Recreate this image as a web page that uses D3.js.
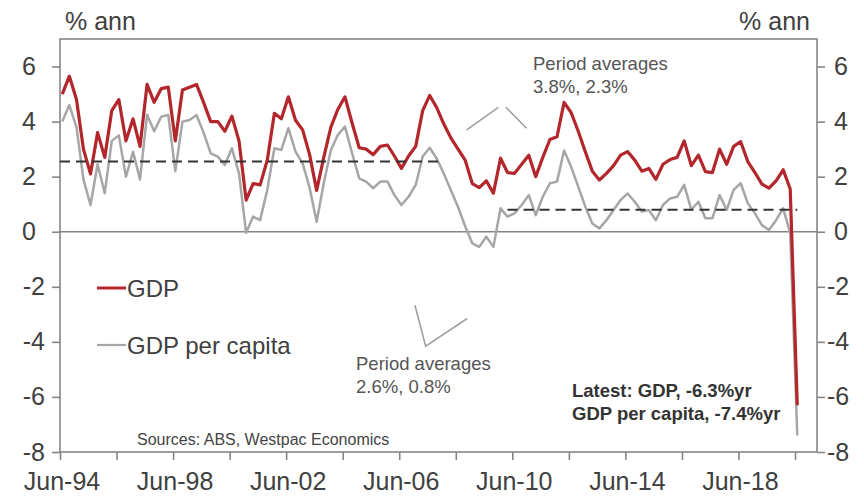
<!DOCTYPE html>
<html>
<head>
<meta charset="utf-8">
<script src="https://cdn.jsdelivr.net/npm/d3@7"></script>
<style>
  body { margin: 0; background: #fff; }
  svg text { font-family: "Liberation Sans", Arial, sans-serif; }
</style>
</head>
<body>
<div id="chart"></div>
<script>
// quarterly, year-ended % change, Jun-94 .. Jun-20
var gdp = [
  5.0, 5.65, 4.8, 3.0, 2.1, 3.6, 2.7, 4.4, 4.8, 3.3,
  4.1, 3.1, 5.35, 4.7, 5.2, 5.25, 3.3, 5.15, 5.25, 5.35,
  4.7, 4.0, 4.0, 3.65, 4.2, 3.3, 1.15, 1.75, 1.7, 2.6,
  4.3, 4.1, 4.9, 4.05, 3.7, 2.8, 1.5, 2.7, 3.8, 4.45,
  4.9, 3.95, 3.05, 3.0, 2.8, 3.1, 3.15, 2.75, 2.3, 2.75,
  3.1, 4.4, 4.95, 4.5, 3.9, 3.4, 3.0, 2.6, 1.75, 1.6,
  1.85, 1.4, 2.67, 2.15, 2.12, 2.45, 2.78, 2.0, 2.7, 3.35,
  3.45, 4.7, 4.33, 3.65, 2.9, 2.2, 1.88, 2.12, 2.4, 2.78,
  2.91, 2.6, 2.2, 2.3, 1.9, 2.45, 2.62, 2.7, 3.3, 2.4,
  2.78, 2.18, 2.15, 3.0, 2.45, 3.1, 3.27, 2.55, 2.15, 1.73,
  1.58, 1.85, 2.25, 1.55, -6.3
];
var gdpPerCapita = [
  4.0, 4.6, 3.8, 1.9, 0.97, 2.45, 1.4, 3.3, 3.5, 2.0,
  2.9, 1.9, 4.25, 3.65, 4.18, 4.24, 2.2, 4.0, 4.06, 4.24,
  3.6, 2.85, 2.73, 2.43, 3.03, 2.12, -0.04, 0.55, 0.42, 1.52,
  3.03, 2.97, 3.76, 2.91, 2.48, 1.6, 0.36, 1.76, 2.97, 3.52,
  3.82, 2.85, 1.94, 1.82, 1.58, 1.82, 1.82, 1.33, 0.97, 1.27,
  1.7, 2.73, 3.05, 2.65, 2.1, 1.5, 0.9, 0.2, -0.42, -0.55,
  -0.18, -0.55, 0.85, 0.55, 0.67, 0.97, 1.33, 0.6, 1.27, 1.76,
  1.82, 2.95, 2.36, 1.64, 0.91, 0.3, 0.12, 0.42, 0.79, 1.15,
  1.39, 1.09, 0.73, 0.79, 0.42, 0.97, 1.21, 1.27, 1.7, 0.8,
  1.09, 0.49, 0.49, 1.33, 0.79, 1.52, 1.76, 1.03, 0.67, 0.24,
  0.06, 0.42, 0.85, -0.05, -7.4
];
// period averages shown as dashed lines
var avgFrom = ["1994-06-01", "2010-03-31"];
var avgTo = ["2007-11-10", "2020-06-30"];
var avgValue = [2.55, 0.8];
var yTicks = [-8, -6, -4, -2, 0, 2, 4, 6];
var xTickYears = [1994, 1996, 1998, 2000, 2002, 2004, 2006, 2008, 2010, 2012, 2014, 2016, 2018, 2020];
var xLabelYears = [1994, 1998, 2002, 2006, 2010, 2014, 2018];
// little pointer marks next to the "Period averages" notes (decimal year, value)
var upperMarks = [[[2008.80, 3.70], [2009.92, 4.52]], [[2010.19, 4.52], [2010.92, 3.76]]];
var lowerMarks = [[[2006.97, -2.67], [2007.35, -4.16], [2008.82, -3.15]]];

(function() {
  var W = 864, H = 498;
  var pl = 60, pr = 817, pt = 39, pb = 452;
  var red = "#b3262b", grey = "#a6a6a6", axisCol = "#858585", textCol = "#404040";
  var fmt = function(d) { return String(d); };

  var svg = d3.select("#chart").append("svg").attr("width", W).attr("height", H);

  var x = d3.scaleTime().domain([new Date(1994, 5, 1), new Date(2021, 2, 12)]).range([pl, pr]);
  var y = d3.scaleLinear().domain([-8, 7]).range([pb, pt]);

  function qDate(i) { return new Date(1994, 6 + 3 * i, 0); }
  function yr(t) {
    var y0 = Math.floor(t), a = new Date(y0, 0, 1), b = new Date(y0 + 1, 0, 1);
    return new Date(+a + (t - y0) * (b - a));
  }

  // frame
  svg.append("rect").attr("x", pl).attr("y", pt).attr("width", pr - pl).attr("height", pb - pt)
    .attr("fill", "none").attr("stroke", axisCol).attr("stroke-width", 1.6);
  svg.append("line").attr("x1", pl).attr("x2", pr).attr("y1", y(0)).attr("y2", y(0))
    .attr("stroke", axisCol).attr("stroke-width", 1.6);

  // axes
  var yl = svg.append("g").attr("transform", "translate(" + pl + ",0)")
    .call(d3.axisLeft(y).tickValues(yTicks).tickSize(8).tickPadding(0).tickFormat(fmt));
  var yr2 = svg.append("g").attr("transform", "translate(" + pr + ",0)")
    .call(d3.axisRight(y).tickValues(yTicks).tickSize(8).tickPadding(0).tickFormat(fmt));
  var xa = svg.append("g").attr("transform", "translate(0," + pb + ")")
    .call(d3.axisBottom(x).tickValues(xTickYears.map(function(v) { return new Date(v, 5, 1); }))
      .tickSize(8).tickFormat(""));
  [yl, yr2, xa].forEach(function(g) {
    g.select(".domain").remove();
    g.selectAll(".tick line").attr("stroke", axisCol).attr("stroke-width", 1.6);
  });
  yl.selectAll(".tick text").attr("x", function(d) { return d < 0 ? -15 : -24; })
    .attr("font-size", 25).attr("fill", textCol).attr("font-family", "Liberation Sans, Arial, sans-serif");
  yr2.selectAll(".tick text").attr("x", function(d) { return d < 0 ? 10 : 17; })
    .attr("font-size", 25).attr("fill", textCol).attr("font-family", "Liberation Sans, Arial, sans-serif");

  svg.append("g").selectAll("text").data(xLabelYears).join("text")
    .attr("x", function(d) { return x(new Date(d, 5, 1)) + 2; })
    .attr("y", 490).attr("text-anchor", "middle").attr("font-size", 25).attr("fill", textCol)
    .text(function(d) { return "Jun-" + String(d).slice(2); });

  svg.append("text").attr("x", 65).attr("y", 30).attr("font-size", 25).attr("fill", textCol).text("% ann");
  svg.append("text").attr("x", 810).attr("y", 30).attr("text-anchor", "end").attr("font-size", 25)
    .attr("fill", textCol).text("% ann");

  // series
  var line = d3.line().x(function(d, i) { return x(qDate(i)); }).y(function(d) { return y(d); });
  svg.append("path").datum(gdpPerCapita).attr("d", line).attr("fill", "none")
    .attr("stroke", grey).attr("stroke-width", 2.5).attr("stroke-linejoin", "round");
  svg.append("path").datum(gdp).attr("d", line).attr("fill", "none")
    .attr("stroke", red).attr("stroke-width", 3.2).attr("stroke-linejoin", "round");

  // averages
  avgValue.forEach(function(v, k) {
    svg.append("line").attr("x1", x(new Date(avgFrom[k]))).attr("x2", x(new Date(avgTo[k])))
      .attr("y1", y(v)).attr("y2", y(v)).attr("stroke", "#333").attr("stroke-width", 2)
      .attr("stroke-dasharray", "10,6");
  });

  // pointer marks
  var mark = d3.line().x(function(d) { return x(yr(d[0])); }).y(function(d) { return y(d[1]); });
  upperMarks.concat(lowerMarks).forEach(function(m) {
    svg.append("path").attr("d", mark(m)).attr("fill", "none").attr("stroke", "#a0a0a0").attr("stroke-width", 1.6);
  });

  // notes
  function note(xp, yp, lines, size, weight, col) {
    var t = svg.append("text").attr("font-size", size).attr("font-weight", weight).attr("fill", col);
    lines.forEach(function(s, k) {
      t.append("tspan").attr("x", xp).attr("y", yp + k * 22.5).text(s);
    });
  }
  note(533, 70, ["Period averages", "3.8%, 2.3%"], 18.5, "normal", "#555");
  note(356, 370, ["Period averages", "2.6%, 0.8%"], 18.5, "normal", "#555");
  note(572, 397, ["Latest: GDP, -6.3%yr", "GDP per capita, -7.4%yr"], 18.5, "bold", "#333");
  svg.append("text").attr("x", 137).attr("y", 445).attr("font-size", 16).attr("fill", "#444")
    .text("Sources: ABS, Westpac Economics");

  // legend
  var legend = [{ name: "GDP", col: red, w: 3, y: 288 }, { name: "GDP per capita", col: grey, w: 2.2, y: 345 }];
  legend.forEach(function(l) {
    svg.append("line").attr("x1", 97).attr("x2", 126).attr("y1", l.y).attr("y2", l.y)
      .attr("stroke", l.col).attr("stroke-width", l.w);
    svg.append("text").attr("x", 127).attr("y", l.y + 9).attr("font-size", 24).attr("fill", textCol).text(l.name);
  });
})();
</script>
</body>
</html>
